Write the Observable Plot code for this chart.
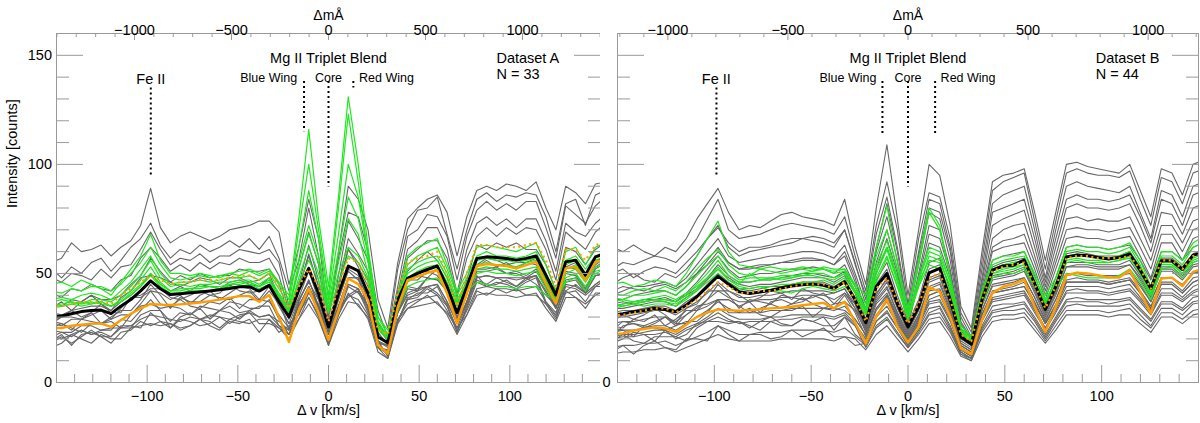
<!DOCTYPE html>
<html>
<head>
<meta charset="utf-8">
<script src="https://cdn.jsdelivr.net/npm/d3@7"></script>
<script src="https://cdn.jsdelivr.net/npm/@observablehq/plot@0.6"></script>
<style>
  body { margin: 0; background: #fff; }
  #wrap { position: relative; width: 1200px; height: 423px; overflow: hidden; }
  #chartA { position: absolute; left: 0; top: 0; }
  #chartB { position: absolute; left: 600px; top: 0; }
</style>
</head>
<body>
<div id="wrap"><div id="chartA"></div><div id="chartB"></div></div>
<script>
// velocity grid of the spectra (km/s)
const velocity = [-152.6,-147.2,-141.7,-136.3,-130.8,-125.4,-119.9,-114.5,-109.0,-103.6,-98.1,-92.7,-87.2,-81.8,-76.3,-70.9,-65.4,-60.0,-54.5,-49.1,-43.6,-38.2,-32.7,-27.3,-21.8,-16.4,-10.9,-5.5,0,5.5,10.9,16.4,21.8,27.3,32.7,38.2,43.6,49.1,54.5,60.0,65.4,70.9,76.3,81.8,87.2,92.7,98.1,103.6,109.0,114.5,119.9,125.4,130.8,136.3,141.7,147.2,152.6];

// ---------- Dataset A ----------
const grayA = [
  [55,57,64,60,61,63,58,62,65,72,89,71,64,67,69,67,65,67,70,71,72,74,74,69,45,62,84,66,30,60,90,84,70,38,25,55,75,80,84,86,78,58,76,88,90,88,91,90,88,92,80,70,90,87,82,91,92],
  [52,48,53,50,55,57,51,56,62,66,73,63,57,61,59,63,60,62,65,62,66,61,67,57,42,56,80,58,28,57,78,76,60,33,21,52,70,79,80,85,68,52,70,84,87,83,86,85,87,86,76,60,82,84,72,86,88],
  [48,46,50,49,47,52,48,53,54,61,69,61,54,57,56,59,55,58,58,61,60,59,61,55,35,52,69,54,23,49,74,66,56,27,21,44,67,70,77,76,67,47,67,79,83,79,82,79,83,83,71,57,81,77,73,81,85],
  [41,39,43,42,45,43,42,47,49,57,62,57,51,54,51,55,52,55,54,57,55,55,57,49,33,45,63,47,23,45,66,59,51,25,19,41,61,65,71,71,61,41,61,73,76,72,75,71,75,75,65,51,73,69,67,73,77],
  [36,35,38,37,40,38,38,40,45,49,57,51,46,49,47,50,48,49,49,52,51,51,52,45,31,43,59,44,23,43,61,55,47,23,17,39,57,61,65,65,57,39,57,67,71,67,71,68,71,70,61,47,69,65,61,69,73],
  [32,31,33,34,35,35,33,37,40,44,50,45,42,44,42,45,44,43,46,47,45,44,48,39,32,43,58,44,25,45,61,53,44,23,17,42,51,56,60,56,48,36,47,63,61,64,62,64,61,61,54,42,62,60,54,61,64],
  [34,37,33,37,40,36,33,39,42,48,49,48,46,44,46,48,47,45,48,48,46,47,50,39,29,39,51,38,24,38,51,47,40,19,17,35,47,47,51,49,43,29,43,53,56,53,55,52,55,54,47,37,53,52,47,54,57],
  [27,26,29,29,32,27,30,33,33,38,45,40,34,39,37,37,40,39,38,40,42,37,42,36,27,38,46,38,22,38,52,49,38,19,16,36,47,49,48,52,42,30,42,54,57,56,54,55,55,57,47,38,53,55,47,56,57],
  [27,30,33,30,32,36,32,32,39,40,43,43,39,38,40,42,40,41,45,42,41,42,44,38,24,37,47,35,23,35,48,48,34,18,17,32,43,42,48,47,42,27,37,51,51,52,50,50,48,51,44,34,50,49,42,52,55],
  [28,27,24,29,28,27,29,31,31,36,42,36,35,38,35,34,37,36,39,34,38,38,37,31,25,35,44,35,20,35,45,43,35,17,14,32,40,42,44,45,37,27,37,48,49,48,48,47,48,49,41,34,46,47,41,49,50],
  [28,30,30,29,31,33,29,34,39,39,42,41,38,40,36,40,42,38,41,44,43,38,44,35,27,31,42,35,18,34,40,43,33,19,12,28,39,40,44,41,36,23,35,47,45,48,46,44,47,49,37,32,45,44,41,45,48],
  [25,27,25,23,27,27,28,25,31,35,36,34,35,34,31,35,34,33,37,36,34,34,38,29,22,36,42,36,19,31,44,41,35,16,15,28,38,41,41,44,35,25,36,49,44,45,47,44,48,45,40,35,42,45,41,45,48],
  [21,23,21,24,22,23,21,25,26,29,31,30,29,28,30,29,31,30,29,31,32,30,31,26,22,32,39,31,19,31,40,38,31,16,13,29,36,38,39,40,33,24,33,43,44,43,43,42,43,44,37,30,41,42,37,44,44],
  [19,22,17,22,23,21,21,26,26,25,32,28,25,29,28,26,27,30,27,30,32,27,27,25,22,29,39,30,17,31,41,35,30,16,11,29,34,37,40,36,32,25,31,42,40,43,41,43,40,40,36,29,42,39,36,40,42],
  [16,18,22,20,18,22,20,20,25,26,27,26,27,24,26,29,26,24,28,27,29,23,29,25,20,29,36,29,17,29,37,36,29,14,11,27,34,35,36,37,31,22,31,40,41,40,40,39,40,41,34,28,39,39,34,41,41],
  [24,23,23,26,26,24,24,29,28,33,38,33,28,32,31,34,29,33,35,32,33,35,35,26,24,37,47,35,23,35,48,48,34,18,17,32,44,43,48,47,42,27,37,52,52,53,50,51,49,52,45,35,51,50,43,53,56],
  [21,20,22,24,22,24,25,25,25,31,33,33,25,30,32,29,30,33,32,29,33,30,31,28,24,35,44,34,20,34,45,43,35,17,14,32,41,43,44,45,37,27,37,48,49,48,48,48,48,49,42,34,47,48,42,49,50],
  [18,21,18,21,24,21,18,23,24,28,26,28,27,25,26,29,28,25,29,28,27,29,29,23,26,31,41,34,18,33,39,42,32,19,12,28,38,39,43,40,35,23,34,46,44,46,45,43,46,48,36,31,44,43,40,44,47]
];
const greenA = [
  [45,46,44,47,45,43,40,46,52,58,68,56,50,50,49,50,49,48,50,51,52,50,52,46,40,75,116,75,44,85,131,100,62,30,24,40,58,62,64,66,54,42,50,62,63,62,61,60,62,64,54,42,60,62,54,62,64],
  [42,41,43,42,44,44,42,45,50,55,62,54,48,47,48,49,48,49,50,49,51,49,51,45,38,70,100,70,40,80,123,92,58,30,22,38,54,58,60,62,52,40,48,58,60,58,58,57,58,60,50,40,56,58,52,58,60],
  [38,39,38,40,41,40,38,42,46,52,58,50,45,46,46,47,46,47,48,48,49,47,50,43,36,62,88,66,38,68,100,85,58,28,21,36,52,55,57,58,50,38,46,56,57,56,56,55,56,57,48,39,54,56,50,56,58],
  [35,36,37,36,38,38,37,40,44,49,56,48,44,45,44,45,45,46,46,47,47,45,48,41,34,55,72,58,36,60,85,75,55,26,20,35,50,53,55,56,48,37,45,54,55,54,54,53,55,56,47,38,52,54,48,55,56],
  [36,35,36,37,36,37,35,38,42,47,53,46,42,43,43,44,44,44,45,46,46,44,47,40,33,52,68,55,34,55,75,68,50,25,20,34,48,51,53,54,46,36,44,52,53,52,52,51,52,53,45,37,50,52,46,53,54],
  [37,38,37,36,37,36,35,37,41,45,50,45,42,42,43,43,44,43,45,45,46,44,46,40,32,48,62,50,33,50,62,58,48,24,20,33,46,49,50,52,44,35,42,50,51,50,50,49,50,51,43,36,48,50,44,51,52],
  [34,35,36,35,36,37,35,37,40,44,49,44,41,41,42,42,42,43,44,44,45,43,45,39,33,46,56,47,32,46,58,55,46,26,22,34,44,46,47,48,42,36,42,46,45,44,44,43,44,44,40,38,46,48,42,50,52]
];
const blackA = [30,30.5,31.5,32.5,33,33.2,31.6,35,38,42,46.6,43,40.3,40.7,41.1,41.5,42,42.5,43.1,43.9,43.9,41.9,44.6,37,30.1,42.4,52.3,40.8,25.5,40.8,53.4,51.2,40.8,20.9,18.2,37.8,47.7,50,51.8,53.4,43.9,32,43.9,56.9,57.6,57.3,56.9,56.1,56.9,58,49.2,40.1,55.3,56.1,49.2,57.6,59];
const orangeA = [25,25,26,26.5,27,27,25.5,28.5,31.5,34,36,35.7,35.5,35.8,36.2,36.7,37.3,38,38.8,39.6,39.6,37,40.1,30,18.6,33,43.1,32,19.4,33,47.7,45.1,37.8,17.1,13.3,34.7,46.9,48.5,50.3,51.5,40.8,27.1,40.8,53.4,54.3,53.8,53.4,52.3,53.8,55.3,45.4,36.2,52.3,53,46.9,55.3,56.1];
const dottedA = [35,35,36,37,37,37,36,40,43,46,49,47,45,46,46,47,47,47,48,49,49,47,50,44,34,44,52,44,28,44,57,55,45,24,22,41,55,57,58,60,50,35,50,63,63,62,62,62,63,64,56,44,61,61,56,63,64];

// ---------- Dataset B ----------
const grayB = [
  [62,60,63,60,58,62,60,66,75,82,89,78,70,72,71,74,77,78,76,75,74,72,84,62,45,80,109,75,40,70,100,95,72,35,25,60,92,95,96,98,78,56,78,100,101,99,98,97,96,100,88,76,98,96,86,100,102],
  [52,55,54,56,58,57,55,60,66,75,84,70,66,67,68,70,72,73,72,71,70,68,76,58,42,72,92,70,36,66,87,85,66,32,23,56,88,92,94,96,74,52,74,96,98,96,95,95,94,97,84,72,94,92,82,96,98],
  [45,48,50,47,46,50,48,52,58,66,72,62,58,60,61,62,63,64,66,65,64,62,70,54,40,68,85,62,34,60,84,82,62,30,21,52,82,86,88,90,70,48,70,90,92,90,89,88,87,90,78,66,88,86,76,90,92],
  [50,52,48,51,53,52,50,55,60,66,71,64,60,62,62,63,65,66,66,67,66,64,70,55,38,62,82,60,32,58,80,78,60,28,20,48,78,80,82,84,66,46,66,84,86,84,84,83,84,86,76,64,84,82,72,86,88],
  [40,42,44,44,45,46,44,48,54,60,66,58,55,56,57,58,58,59,60,60,59,57,63,50,36,60,76,56,30,54,78,75,56,27,19,46,72,75,77,79,62,44,62,80,82,80,80,79,80,82,72,60,78,77,68,80,82],
  [38,38,40,41,42,42,40,44,50,56,62,55,52,52,53,54,55,55,56,56,56,54,58,46,34,55,70,52,28,50,72,70,52,25,18,44,66,70,72,73,58,42,58,75,76,74,75,74,74,76,66,56,72,72,64,74,76],
  [35,36,37,38,38,39,37,41,46,52,58,52,48,49,50,50,51,52,52,53,52,50,54,44,32,52,66,50,27,48,68,66,50,24,17,42,62,65,66,68,55,40,55,70,71,70,70,69,70,71,62,52,68,68,60,70,72],
  [42,44,43,42,44,45,43,46,50,54,60,55,52,53,54,54,55,56,57,57,56,54,60,48,32,50,62,48,26,46,64,62,48,23,17,40,60,62,63,64,52,38,52,66,67,66,66,65,66,67,58,48,64,64,56,66,68],
  [32,33,33,34,35,35,33,37,40,45,50,46,43,42,43,44,44,45,46,46,46,44,47,39,28,45,52,38,26,37,52,54,40,21,18,39,53,55,56,57,46,34,45,59,60,59,58,58,58,60,53,44,57,57,53,59,61],
  [28,31,29,31,34,31,27,34,36,42,42,42,40,37,39,42,41,38,43,41,40,41,43,34,26,40,48,35,24,34,48,50,36,20,17,36,49,50,51,53,43,32,42,55,55,55,54,54,54,56,49,41,53,53,49,55,57],
  [34,34,35,36,37,37,35,39,42,47,52,48,45,44,45,45,46,47,48,48,48,46,49,41,26,41,47,35,24,34,47,49,36,20,17,36,48,49,50,52,42,31,41,53,54,54,53,53,53,54,48,40,52,52,48,54,55],
  [26,25,29,28,31,26,29,33,33,38,45,40,34,38,37,36,40,39,38,39,41,36,41,36,25,39,46,34,23,33,46,48,35,19,16,35,47,48,49,51,41,30,40,53,53,53,52,52,52,54,47,39,51,51,47,53,54],
  [30,30,31,32,33,33,31,34,37,41,46,42,39,39,40,40,41,42,42,42,42,41,43,36,24,38,44,32,22,31,44,46,34,18,15,33,45,46,47,48,39,29,38,50,50,50,49,49,49,51,45,37,48,48,45,50,52],
  [21,26,27,25,27,30,27,27,33,35,38,38,35,32,34,36,34,36,39,36,34,36,37,33,24,37,43,32,22,31,43,45,33,18,15,33,44,45,46,48,39,28,38,49,50,49,49,49,49,50,44,37,48,48,44,50,51],
  [27,28,28,29,30,30,28,31,34,38,42,39,37,37,38,38,39,39,40,40,40,38,41,34,23,36,41,31,21,30,42,43,32,17,14,31,42,43,44,46,37,27,36,47,48,47,47,46,47,48,42,35,46,46,42,48,49],
  [25,24,21,26,25,24,26,28,28,32,38,32,32,34,31,30,33,33,35,30,34,34,33,29,22,34,40,30,20,29,40,42,31,17,14,31,41,42,43,44,36,27,35,46,46,46,46,45,46,47,41,34,45,45,41,46,48],
  [36,37,36,37,38,38,37,40,43,48,54,49,46,46,47,47,48,49,50,50,49,48,51,42,29,47,55,40,27,38,55,57,42,22,19,41,56,58,59,60,49,36,48,62,63,62,62,61,62,63,56,47,60,60,56,62,64],
  [24,28,27,26,28,30,26,31,35,36,38,38,35,37,32,37,38,36,37,40,38,34,40,32,21,33,39,29,19,28,38,40,30,16,13,29,39,40,41,42,34,25,34,44,44,44,44,43,44,45,39,33,43,43,39,44,46],
  [20,21,21,22,22,23,21,24,26,29,32,29,27,28,28,28,29,29,30,30,30,29,31,26,19,30,35,27,18,26,36,37,28,15,12,28,37,38,39,40,32,24,32,41,41,41,41,40,41,42,37,31,40,40,37,41,43],
  [19,22,19,18,21,21,21,19,25,28,28,27,28,26,24,28,26,26,29,28,26,26,30,22,18,28,33,25,17,25,34,35,26,14,11,26,35,36,36,37,30,22,30,38,39,38,38,38,38,39,34,29,37,37,34,39,40],
  [16,17,17,18,18,19,17,19,21,23,26,24,22,22,23,23,23,24,24,24,24,23,25,21,17,26,30,23,16,23,31,32,24,13,10,24,32,33,33,34,28,20,28,35,36,35,35,35,35,36,31,26,34,34,31,36,37],
  [14,17,13,17,19,16,15,20,20,19,26,22,19,22,22,20,21,24,21,23,25,21,21,20,15,22,26,20,14,20,27,28,21,12,10,21,28,29,29,30,24,18,24,31,31,31,31,30,31,31,27,23,30,30,27,31,32],
  [21,22,22,23,24,24,22,25,27,30,34,31,29,29,29,30,30,31,31,31,31,30,32,27,20,31,37,28,19,27,37,38,29,15,12,29,38,39,40,41,33,25,33,42,43,42,42,41,42,43,38,32,41,41,38,42,44],
  [18,20,23,22,19,24,20,22,27,28,30,28,28,25,28,30,27,26,29,28,30,24,30,26,16,25,29,22,16,22,29,30,23,13,11,23,30,31,31,32,26,19,26,33,33,33,33,32,33,34,29,25,32,32,29,33,34],
  [13,14,14,15,15,16,14,16,18,20,22,20,19,19,19,19,20,20,20,20,20,19,21,17,18,28,32,25,17,24,32,34,25,14,11,25,33,34,35,36,29,21,29,37,37,37,37,36,37,38,33,28,36,36,33,37,38],
  [23,24,24,25,26,26,24,27,30,33,37,34,32,32,32,33,33,34,34,34,34,33,35,29,22,34,40,30,20,29,40,42,31,16,13,31,41,42,43,44,36,27,35,46,46,46,46,45,46,47,41,34,45,45,41,46,48]
];
const greenB = [
  [45,46,44,45,47,46,44,50,58,66,74,60,54,53,52,53,52,52,53,52,52,51,52,45,40,62,81,55,34,56,80,72,48,26,21,42,56,58,58,60,50,40,48,62,63,62,62,61,62,64,56,44,60,60,56,64,67],
  [41,40,42,43,42,44,42,46,52,57,61,54,50,49,52,51,50,51,52,51,53,52,52,44,36,58,70,52,32,54,78,70,48,25,20,40,54,56,57,58,48,38,46,60,61,60,60,59,60,62,54,42,58,58,54,62,64],
  [39,38,40,40,41,42,40,44,49,54,58,51,47,48,48,48,49,49,49,50,50,48,50,42,34,54,65,48,30,48,62,60,46,24,20,38,52,54,55,56,46,37,45,58,58,58,57,57,58,60,52,41,56,56,52,58,60],
  [35,36,37,37,38,38,37,40,45,50,56,49,46,46,47,47,48,48,49,49,48,47,50,42,32,50,61,46,30,46,56,55,44,23,19,37,50,51,52,54,45,36,44,55,56,55,55,55,56,57,50,40,54,54,50,56,58],
  [37,38,37,38,39,40,38,41,44,48,52,47,44,43,44,42,42,41,43,44,43,42,44,39,31,46,57,44,29,44,54,52,42,22,19,36,48,50,50,52,44,36,43,50,49,48,48,48,49,52,46,38,52,53,48,55,57],
  [36,35,36,37,38,37,36,39,43,48,53,47,45,50,47,48,47,48,50,51,52,50,51,44,33,52,62,47,30,47,60,58,46,24,20,38,52,54,55,56,46,37,45,58,59,58,58,57,58,60,52,41,56,56,52,58,60],
  [34,35,36,35,36,36,35,38,42,46,50,45,43,43,44,44,45,45,46,46,47,45,48,41,32,48,58,44,29,44,58,56,44,23,19,37,50,52,53,54,45,36,44,56,57,56,56,55,56,58,50,40,55,55,50,57,59]
];
const blackB = [31,31.5,32.4,33,34,33.5,32.4,35.5,39.3,44,48.8,45,41.6,40.8,41.5,42.3,43.3,44.2,44.8,45.1,44.6,43.1,46.2,37.8,27.4,43.9,50,36.2,25.5,34.7,50.3,52.3,37.8,21,17.6,37.8,51.5,53.4,53.8,56.1,45.4,33.5,43.9,57.6,58.4,58.1,57.3,56.6,57.3,58.9,51.5,43.1,55.8,55.8,51.8,58.4,59.5];
const orangeB = [22,22.5,23.8,24.5,25.3,24.8,23.2,26.5,30.1,32,33.5,33.2,32.9,33.2,33.6,34,34.3,34.7,35.4,36,36.5,34,37,27.5,17.9,30.1,38.1,25.5,18.4,25.5,43.6,41.6,30.1,15.6,13,28.6,41.1,43.9,45.1,47.2,34.7,23.2,34.7,49.2,50.3,50,49.2,48.1,48.1,51.5,41.6,31.6,47.7,48.1,44.2,50.7,52.3];
const dottedB = [31,31,32,33,34,34,32,35,38,42,46,44,41,41,42,42,43,44,45,45,45,43,46,38,28,43,48,37,27,36,48,50,38,22,19,38,51,53,54,55,45,34,44,57,58,58,57,57,57,58,52,43,56,56,52,58,59];

// ---------- axes and annotations ----------
const vMajor = [-100, -50, 0, 50, 100];
const vMinor = [-140,-130,-120,-110,-90,-80,-70,-60,-40,-30,-20,-10,10,20,30,40,60,70,80,90,110,120,130,140];
const yMajor = [0, 50, 100, 150];
const yMinor = [10,20,30,40,60,70,80,90,110,120,130,140];
const mAMajor = [-1000, -500, 0, 500, 1000];
const mAMinorA = [-1400,-1300,-1200,-1100,-900,-800,-700,-600,-400,-300,-200,-100,100,200,300,400,600,700,800,900,1100,1200,1300,1400];
const mAMinorB = [-1200,-1100,-900,-800,-700,-600,-400,-300,-200,-100,100,200,300,400,600,700,800,900,1100,1200];

const lineNames = ["Fe II", "Blue Wing", "Core", "Red Wing"];
const lineTextVA = [-98, -33, 0, 32];
const lineTextVB = [-99, -31, 0, 31];
const markerVA = [-98, -13.5, 0, 13.7];
const markerTopA = [135, 138, 138, 138];
const markerBottomA = [95, 115, 89.6, 135];
const markerVB = [-98.9, -13.2, 0, 14];
const markerTopB = [135, 138, 138, 138];
const markerBottomB = [95, 114, 89.6, 114];

const font = "'Liberation Sans', Arial, Helvetica, sans-serif";
const frameGray = "#9a9a9a";
const minus = d => d < 0 ? "\u2212" + Math.abs(d) : String(d);

function drawPanel(target, p) {
  const k = p.kmsPerMilliA;
  const many = (list, tag) => list.flatMap((vals, j) => vals.map((val, i) => ({v: velocity[i], val, id: tag + j})));
  const one = vals => vals.map((val, i) => ({v: velocity[i], val}));
  const names = lineNames.map((name, i) => ({name, v: p.textV[i], small: i > 0}));
  const markers = p.markerV.map((v, i) => ({v, top: p.markerTop[i], bottom: p.markerBottom[i]}));

  const chart = Plot.plot({
    width: p.width,
    height: 423,
    marginLeft: p.marginLeft,
    marginRight: p.marginRight,
    marginTop: 33,
    marginBottom: 41,
    x: {domain: [-150, 150], axis: null, label: null},
    y: {domain: [0, 160], axis: null, label: null},
    style: {fontFamily: font, fontSize: "14.5px", color: "black", background: "white", overflow: "visible"},
    marks: [
      Plot.line(many(p.grays, "g"), {x: "v", y: "val", z: "id", stroke: "#676767", strokeWidth: 1.1, clip: true}),
      Plot.line(many(p.greens, "G"), {x: "v", y: "val", z: "id", stroke: "#22e622", strokeWidth: 1.2, clip: true}),
      Plot.line(one(p.black), {x: "v", y: "val", stroke: "black", strokeWidth: 3, clip: true}),
      Plot.line(one(p.orange), {x: "v", y: "val", stroke: "#ff9d00", strokeWidth: 2.4, clip: true}),
      Plot.line(one(p.dotted), {x: "v", y: "val", stroke: "#ff9d00", strokeWidth: 2.2, strokeDasharray: "2,3.5", strokeLinecap: "butt", clip: true}),
      Plot.ruleX(markers, {x: "v", y1: "top", y2: "bottom", stroke: "black", strokeWidth: 2, strokeDasharray: "2,3"}),
      Plot.frame({stroke: frameGray}),
      // inward ticks
      Plot.axisY(yMajor, {anchor: "left", tickSize: -27, text: null, stroke: frameGray, label: null}),
      Plot.axisY(yMinor, {anchor: "left", tickSize: -13, text: null, stroke: frameGray, label: null}),
      Plot.axisY(yMajor, {anchor: "right", tickSize: -27, text: null, stroke: frameGray, label: null}),
      Plot.axisY(yMinor, {anchor: "right", tickSize: -13, text: null, stroke: frameGray, label: null}),
      Plot.axisX(vMajor, {anchor: "bottom", tickSize: -17, text: null, stroke: frameGray, label: null}),
      Plot.axisX(vMinor, {anchor: "bottom", tickSize: -8, text: null, stroke: frameGray, label: null}),
      Plot.axisX(mAMajor.map(m => m * k), {anchor: "top", tickSize: -6, text: null, stroke: frameGray, label: null}),
      Plot.axisX(p.mAMinor.map(m => m * k), {anchor: "top", tickSize: -3, text: null, stroke: frameGray, label: null}),
      // tick labels
      Plot.axisX(vMajor, {anchor: "bottom", tickSize: 0, tickPadding: 8, fontSize: 14.5, label: null}),
      Plot.axisY(p.yLabels, {anchor: "left", tickSize: 0, tickPadding: p.yPad, fontSize: 14.5, label: null}),
      Plot.text(mAMajor, {x: d => d * k, text: d => minus(d), frameAnchor: "top", dy: -9, fontSize: 14.5}),
      Plot.text(["\u0394m\u00c5"], {frameAnchor: "top", dy: -23, fontSize: 14}),
      Plot.text(["\u0394 v [km/s]"], {frameAnchor: "bottom", dy: 32, fontSize: 14.5}),
      p.yTitle ? Plot.text([p.yTitle], {frameAnchor: "left", dx: -44, rotate: -90, fontSize: 14.5}) : null,
      // annotations
      Plot.text(["Mg II Triplet Blend"], {x: [0], frameAnchor: "top", dy: 19, fontSize: 14.5}),
      Plot.text(names, {x: "v", text: "name", frameAnchor: "top", dy: 40, fontSize: d => d.small ? 12.5 : 14.5}),
      Plot.text([p.dataset], {x: [p.datasetV], frameAnchor: "top", dy: 19, textAnchor: "start", fontSize: 14.5}),
      Plot.text([p.count], {x: [p.datasetV], frameAnchor: "top", dy: 35, textAnchor: "start", fontSize: 14.5})
    ]
  });
  document.querySelector(target).append(chart);
}

drawPanel("#chartA", {
  width: 601, marginLeft: 56, marginRight: 1, kmsPerMilliA: 0.107,
  grays: grayA, greens: greenA, black: blackA, orange: orangeA, dotted: dottedA,
  mAMinor: mAMinorA, yLabels: yMajor, yPad: 4.5, yTitle: "Intensity [counts]",
  textV: lineTextVA, markerV: markerVA, markerTop: markerTopA, markerBottom: markerBottomA,
  dataset: "Dataset A", count: "N = 33", datasetV: 92.6
});
drawPanel("#chartB", {
  width: 600, marginLeft: 17, marginRight: 2, kmsPerMilliA: 0.124,
  grays: grayB, greens: greenB, black: blackB, orange: orangeB, dotted: dottedB,
  mAMinor: mAMinorB, yLabels: [0], yPad: 7, yTitle: null,
  textV: lineTextVB, markerV: markerVB, markerTop: markerTopB, markerBottom: markerBottomB,
  dataset: "Dataset B", count: "N = 44", datasetV: 96.9
});
</script>
</body>
</html>
